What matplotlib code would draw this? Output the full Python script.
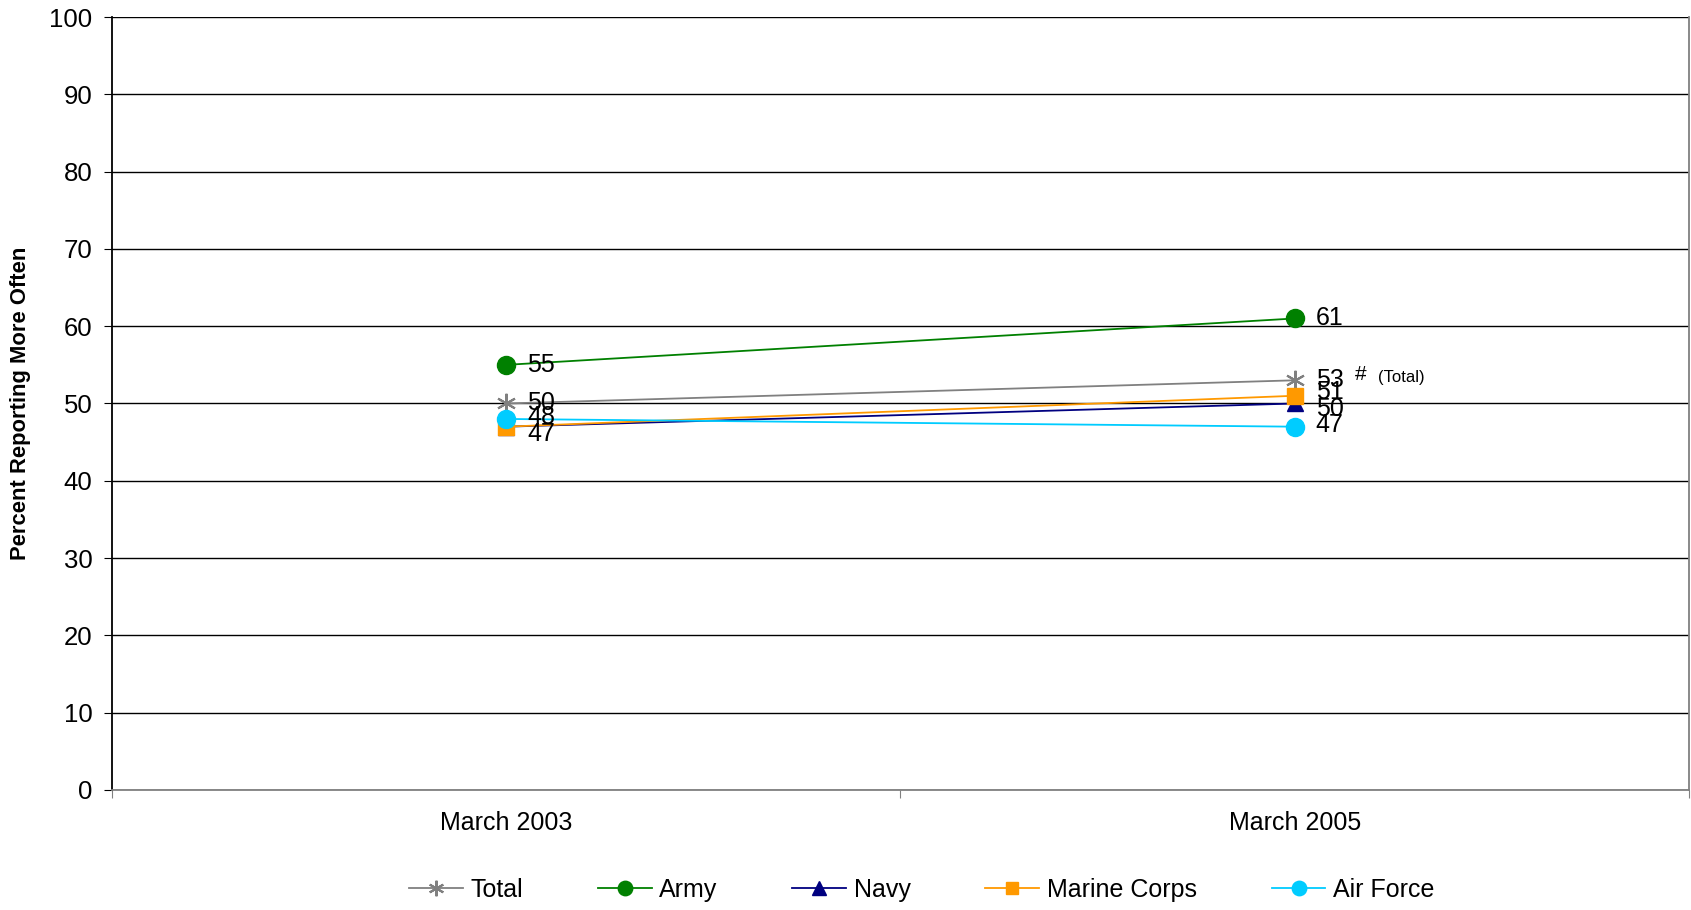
import matplotlib
matplotlib.use("Agg")
import matplotlib.pyplot as plt
import numpy as np

plt.rcParams['font.family'] = ['Liberation Sans', 'DejaVu Sans']

periods = ["March 2003", "March 2005"]
series = ["Total", "Army", "Navy", "Marine Corps", "Air Force"]
total = [50, 53]
army = [55, 61]
navy = [47, 50]
marine = [47, 51]
air_force = [48, 47]

colors = ["#808080", "#008000", "#000080", "#FF9900", "#00CCFF"]
markers = [(6, 2, 0), "o", "^", "s", "o"]
msizes = [14, 13, 12, 11.5, 13]
# label nudges in points (dy for each period), None = label hidden
label_dy = [(0, 0), (0, 0), (-5.4, -4), (None, 3), (1.5, 1)]

fig = plt.figure(figsize=(16.91, 9.10), dpi=100)
ax = fig.add_axes([0.0662, 0.1319, 0.9326, 0.8494])

x = np.array([0.5, 1.5])
all_vals = [total, army, navy, marine, air_force]
handles = []
for name, vals, c, m, ms, dys in zip(series, all_vals, colors, markers, msizes, label_dy):
    mew = 1.5 if m == (6, 2, 0) else 1
    h, = ax.plot(x, vals, color=c, lw=1.3, marker=m, markersize=ms,
                 markeredgewidth=mew, markeredgecolor=c, label=name, zorder=3)
    handles.append(h)
    for xi, v, dy in zip(x, vals, dys):
        if dy is None:
            continue
        ax.annotate(f"{v}", (xi, v), xytext=(15, dy), textcoords="offset points",
                    ha="left", va="center", fontsize=18, color="black", zorder=4)

# note for significant change
ax.annotate("#", (x[1], total[1]), xytext=(43, 4), textcoords="offset points",
            ha="left", va="center", fontsize=15)
ax.annotate("(Total)", (x[1], total[1]), xytext=(60, 2), textcoords="offset points",
            ha="left", va="center", fontsize=12)

ax.set_xlim(0, 2)
ax.set_ylim(0, 100)
ax.set_yticks(np.arange(0, 101, 10))
ax.yaxis.grid(True, color="black", lw=1)
ax.set_axisbelow(True)

ax.set_xticks([0, 1, 2])
ax.set_xticklabels([])
ax.set_xticks(x, minor=True)
ax.set_xticklabels(periods, minor=True, fontsize=18)
ax.tick_params(axis="x", which="minor", length=0, pad=15)
ax.tick_params(axis="x", which="major", length=6, direction="out", color="#808080")
ax.tick_params(axis="y", length=6, direction="out", labelsize=18.5, pad=8)

ax.spines["top"].set_visible(False)
ax.spines["right"].set_color("#808080")
ax.spines["bottom"].set_color("#808080")
ax.spines["left"].set_color("black")
for s in ax.spines.values():
    s.set_linewidth(1.3)

ax.set_ylabel("Percent Reporting More Often", fontsize=15.8, fontweight="bold")
ax.yaxis.set_label_coords(-0.0514, 0.5)

fig.legend(handles=handles, loc="center", bbox_to_anchor=(0.545, 0.022), ncol=5,
           frameon=False, fontsize=18, handlelength=2.15, handletextpad=0.3,
           columnspacing=3.0, markerscale=0.8)

fig.savefig("out.png", dpi=100)
